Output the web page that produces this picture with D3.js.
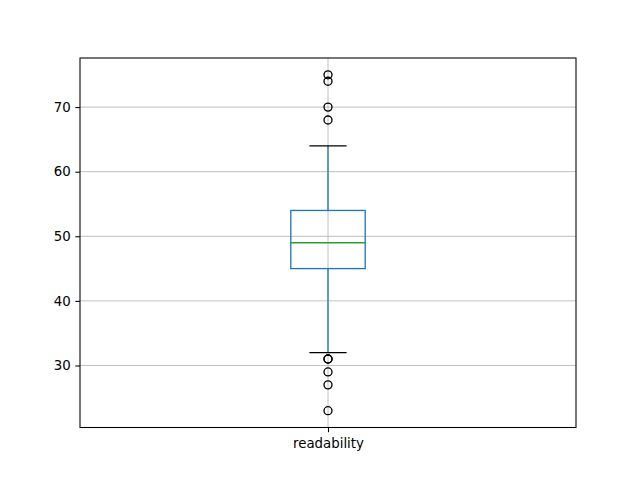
<!DOCTYPE html>
<html>
<head>
<meta charset="utf-8">
<script src="https://cdn.jsdelivr.net/npm/d3@7"></script>
<style>
  body { margin: 0; background: #fff; }
  svg { display: block; }
  text { font-family: "DejaVu Sans", sans-serif; font-size: 13.33px; fill: #000; }
</style>
</head>
<body>
<div id="chart"></div>
<script>
// box statistics
var categories = ["readability"];
var q1 = [45], median = [49], q3 = [54];
var whiskerLow = [32], whiskerHigh = [64];
var outliers = [[75, 74, 70, 68, 31, 31, 29, 27, 23]];
var yTicks = [30, 40, 50, 60, 70];

var margin = { top: 58, right: 64, bottom: 52.5, left: 80 },
  width = 640 - margin.left - margin.right,
  height = 480 - margin.top - margin.bottom;

var svg = d3.select("#chart").append("svg")
  .attr("width", 640)
  .attr("height", 480);

var g = svg.append("g")
  .attr("transform", "translate(" + margin.left + "," + margin.top + ")");

var x = d3.scaleLinear().domain([0.5, 1.5]).range([0, width]);
var y = d3.scaleLinear().domain([20.4, 77.6]).range([height, 0]);

// grid
g.append("g").selectAll("line")
  .data(yTicks)
  .enter().append("line")
  .attr("x1", 0).attr("x2", width)
  .attr("y1", function(d) { return y(d); })
  .attr("y2", function(d) { return y(d); })
  .attr("stroke", "#b0b0b0").attr("stroke-width", 0.8);

g.append("g").selectAll("line")
  .data(categories)
  .enter().append("line")
  .attr("x1", function(d, i) { return x(i + 1); })
  .attr("x2", function(d, i) { return x(i + 1); })
  .attr("y1", 0).attr("y2", height)
  .attr("stroke", "#b0b0b0").attr("stroke-width", 0.8);

var boxW = 0.15, capW = 0.075;

var box = g.selectAll(".box")
  .data(categories)
  .enter().append("g")
  .attr("class", "box");

// whiskers
box.append("line")
  .attr("x1", function(d, i) { return x(i + 1); })
  .attr("x2", function(d, i) { return x(i + 1); })
  .attr("y1", function(d, i) { return y(q3[i]); })
  .attr("y2", function(d, i) { return y(whiskerHigh[i]); })
  .attr("stroke", "#1f77b4").attr("stroke-width", 1.33);
box.append("line")
  .attr("x1", function(d, i) { return x(i + 1); })
  .attr("x2", function(d, i) { return x(i + 1); })
  .attr("y1", function(d, i) { return y(q1[i]); })
  .attr("y2", function(d, i) { return y(whiskerLow[i]); })
  .attr("stroke", "#1f77b4").attr("stroke-width", 1.33);

// caps
[whiskerHigh, whiskerLow].forEach(function(arr) {
  box.append("line")
    .attr("x1", function(d, i) { return x(i + 1 - capW / 2); })
    .attr("x2", function(d, i) { return x(i + 1 + capW / 2); })
    .attr("y1", function(d, i) { return y(arr[i]); })
    .attr("y2", function(d, i) { return y(arr[i]); })
    .attr("stroke", "#000").attr("stroke-width", 1.33);
});

// box
box.append("rect")
  .attr("x", function(d, i) { return x(i + 1 - boxW / 2); })
  .attr("width", function() { return x(1 + boxW) - x(1); })
  .attr("y", function(d, i) { return y(q3[i]); })
  .attr("height", function(d, i) { return y(q1[i]) - y(q3[i]); })
  .attr("fill", "none")
  .attr("stroke", "#1f77b4").attr("stroke-width", 1.33);

// median
box.append("line")
  .attr("x1", function(d, i) { return x(i + 1 - boxW / 2); })
  .attr("x2", function(d, i) { return x(i + 1 + boxW / 2); })
  .attr("y1", function(d, i) { return y(median[i]); })
  .attr("y2", function(d, i) { return y(median[i]); })
  .attr("stroke", "#2ca02c").attr("stroke-width", 1.33);

// fliers
box.each(function(d, i) {
  d3.select(this).selectAll("circle")
    .data(outliers[i])
    .enter().append("circle")
    .attr("cx", x(i + 1))
    .attr("cy", function(v) { return y(v); })
    .attr("r", 4)
    .attr("fill", "none")
    .attr("stroke", "#000").attr("stroke-width", 1.33);
});

// axes
var yAxis = d3.axisLeft(y).tickValues(yTicks).tickSize(4.67).tickPadding(4.67);
var xAxis = d3.axisBottom(d3.scaleOrdinal().domain(categories).range(categories.map(function(d, i) { return x(i + 1); })))
  .tickSize(4.67).tickPadding(6);

var ya = g.append("g").call(yAxis);
var xa = g.append("g").attr("transform", "translate(0," + height + ")").call(xAxis);
[ya, xa].forEach(function(a) {
  a.select(".domain").remove();
  a.selectAll("line").attr("stroke", "#000").attr("stroke-width", 1.07);
  a.selectAll("text").attr("font-family", "DejaVu Sans").attr("font-size", 13.33).attr("fill", "#000");
});

// frame
g.append("rect")
  .attr("width", width).attr("height", height)
  .attr("fill", "none")
  .attr("stroke", "#000").attr("stroke-width", 1.07);
</script>
</body>
</html>
